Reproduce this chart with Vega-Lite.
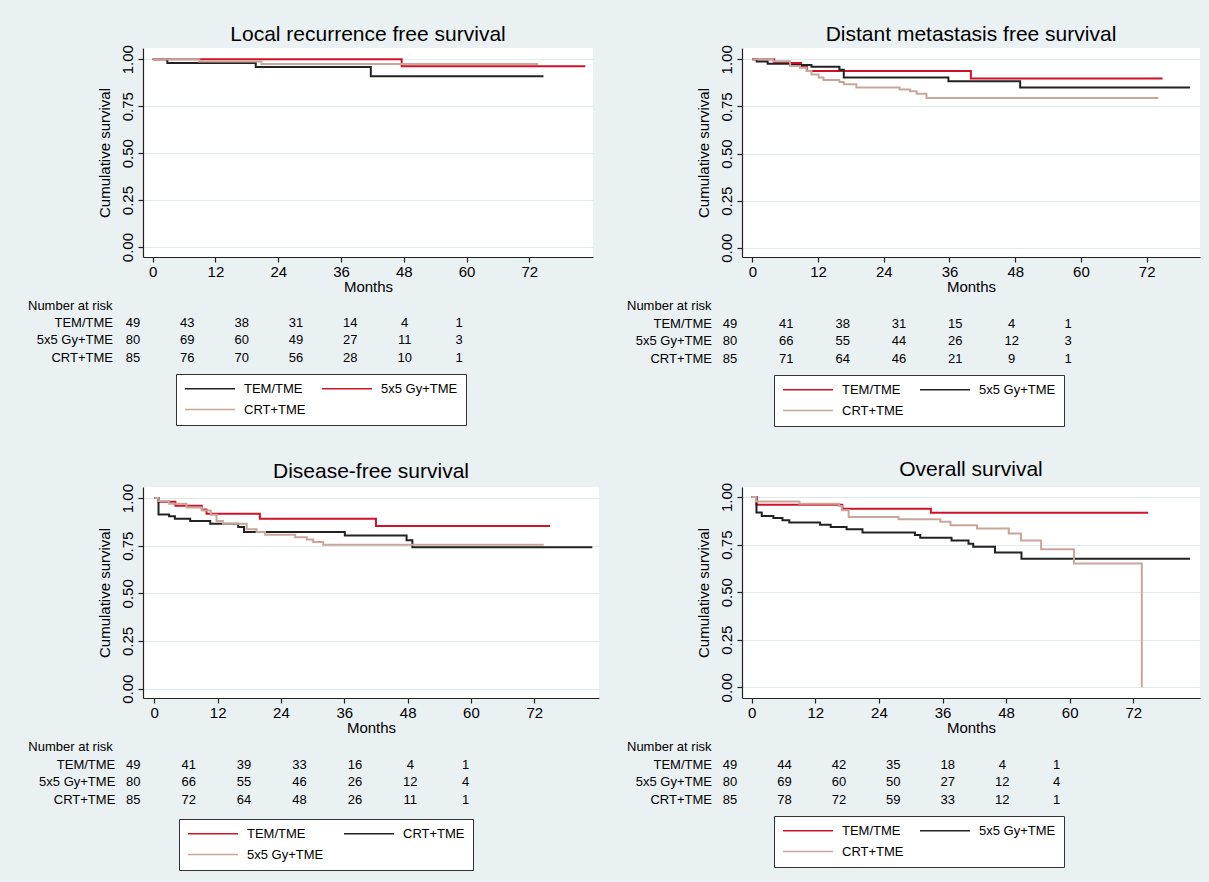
{
  "$schema": "https://vega.github.io/schema/vega-lite/v6.json",
  "background": "#eaf1f3",
  "autosize": {"type": "pad"},
  "padding": {"left": 28, "top": 23, "right": 9, "bottom": 12},
  "columns": 2,
  "spacing": {"row": 230, "column": 143},
  "bounds": "flush",
  "resolve": {"scale": {"color": "independent"}},
  "datasets": {
    "km1": [
      {"group": "TEM/TME", "month": 0, "surv": 1},
      {"group": "TEM/TME", "month": 2.8, "surv": 0.98},
      {"group": "TEM/TME", "month": 19.7, "surv": 0.959},
      {"group": "TEM/TME", "month": 41.7, "surv": 0.909},
      {"group": "TEM/TME", "month": 74.7, "surv": 0.909},
      {"group": "5x5 Gy+TME", "month": 0, "surv": 1},
      {"group": "5x5 Gy+TME", "month": 47.6, "surv": 0.963},
      {"group": "5x5 Gy+TME", "month": 82.7, "surv": 0.963},
      {"group": "CRT+TME", "month": 0, "surv": 1},
      {"group": "CRT+TME", "month": 8.9, "surv": 0.988},
      {"group": "CRT+TME", "month": 20.8, "surv": 0.975},
      {"group": "CRT+TME", "month": 73.7, "surv": 0.975}
    ],
    "km2": [
      {"group": "TEM/TME", "month": 0, "surv": 1},
      {"group": "TEM/TME", "month": 4, "surv": 0.98},
      {"group": "TEM/TME", "month": 8.9, "surv": 0.959},
      {"group": "TEM/TME", "month": 10, "surv": 0.938},
      {"group": "TEM/TME", "month": 39.9, "surv": 0.898},
      {"group": "TEM/TME", "month": 74.9, "surv": 0.898},
      {"group": "5x5 Gy+TME", "month": 0, "surv": 1},
      {"group": "5x5 Gy+TME", "month": 0.8, "surv": 0.988},
      {"group": "5x5 Gy+TME", "month": 2.8, "surv": 0.976},
      {"group": "5x5 Gy+TME", "month": 6.9, "surv": 0.97},
      {"group": "5x5 Gy+TME", "month": 10.8, "surv": 0.96},
      {"group": "5x5 Gy+TME", "month": 15.9, "surv": 0.945},
      {"group": "5x5 Gy+TME", "month": 16.7, "surv": 0.904},
      {"group": "5x5 Gy+TME", "month": 35.8, "surv": 0.884},
      {"group": "5x5 Gy+TME", "month": 48.9, "surv": 0.85},
      {"group": "5x5 Gy+TME", "month": 79.9, "surv": 0.85},
      {"group": "CRT+TME", "month": 0, "surv": 1},
      {"group": "CRT+TME", "month": 3.8, "surv": 0.99},
      {"group": "CRT+TME", "month": 6.9, "surv": 0.965},
      {"group": "CRT+TME", "month": 8.7, "surv": 0.955},
      {"group": "CRT+TME", "month": 9.9, "surv": 0.938},
      {"group": "CRT+TME", "month": 10.8, "surv": 0.92},
      {"group": "CRT+TME", "month": 12.1, "surv": 0.903},
      {"group": "CRT+TME", "month": 13, "surv": 0.89},
      {"group": "CRT+TME", "month": 15.9, "surv": 0.88},
      {"group": "CRT+TME", "month": 16.7, "surv": 0.867},
      {"group": "CRT+TME", "month": 19, "surv": 0.85},
      {"group": "CRT+TME", "month": 26.9, "surv": 0.84},
      {"group": "CRT+TME", "month": 28.8, "surv": 0.83},
      {"group": "CRT+TME", "month": 30, "surv": 0.817},
      {"group": "CRT+TME", "month": 31.8, "surv": 0.795},
      {"group": "CRT+TME", "month": 74.1, "surv": 0.795}
    ],
    "km3": [
      {"group": "TEM/TME", "month": 0, "surv": 1},
      {"group": "TEM/TME", "month": 0.8, "surv": 0.98},
      {"group": "TEM/TME", "month": 4, "surv": 0.96},
      {"group": "TEM/TME", "month": 9, "surv": 0.94},
      {"group": "TEM/TME", "month": 9.9, "surv": 0.918},
      {"group": "TEM/TME", "month": 20, "surv": 0.892},
      {"group": "TEM/TME", "month": 42, "surv": 0.853},
      {"group": "TEM/TME", "month": 75, "surv": 0.853},
      {"group": "CRT+TME", "month": 0, "surv": 1},
      {"group": "CRT+TME", "month": 0.8, "surv": 0.914},
      {"group": "CRT+TME", "month": 2.8, "surv": 0.904},
      {"group": "CRT+TME", "month": 3.9, "surv": 0.892},
      {"group": "CRT+TME", "month": 6.8, "surv": 0.88},
      {"group": "CRT+TME", "month": 10.6, "surv": 0.865},
      {"group": "CRT+TME", "month": 15.9, "surv": 0.848},
      {"group": "CRT+TME", "month": 17, "surv": 0.822},
      {"group": "CRT+TME", "month": 36.1, "surv": 0.804},
      {"group": "CRT+TME", "month": 47.8, "surv": 0.778},
      {"group": "CRT+TME", "month": 48.9, "surv": 0.742},
      {"group": "CRT+TME", "month": 83, "surv": 0.742},
      {"group": "5x5 Gy+TME", "month": 0, "surv": 1},
      {"group": "5x5 Gy+TME", "month": 0.8, "surv": 0.985},
      {"group": "5x5 Gy+TME", "month": 2.8, "surv": 0.97},
      {"group": "5x5 Gy+TME", "month": 6.1, "surv": 0.95},
      {"group": "5x5 Gy+TME", "month": 9, "surv": 0.935},
      {"group": "5x5 Gy+TME", "month": 10.7, "surv": 0.912},
      {"group": "5x5 Gy+TME", "month": 11.8, "surv": 0.88},
      {"group": "5x5 Gy+TME", "month": 13, "surv": 0.865},
      {"group": "5x5 Gy+TME", "month": 17.5, "surv": 0.836},
      {"group": "5x5 Gy+TME", "month": 19.4, "surv": 0.822},
      {"group": "5x5 Gy+TME", "month": 21, "surv": 0.808},
      {"group": "5x5 Gy+TME", "month": 26.7, "surv": 0.795},
      {"group": "5x5 Gy+TME", "month": 28.9, "surv": 0.783},
      {"group": "5x5 Gy+TME", "month": 30.1, "surv": 0.77},
      {"group": "5x5 Gy+TME", "month": 32, "surv": 0.755},
      {"group": "5x5 Gy+TME", "month": 73.8, "surv": 0.755}
    ],
    "km4": [
      {"group": "TEM/TME", "month": 0, "surv": 1},
      {"group": "TEM/TME", "month": 0.9, "surv": 0.959},
      {"group": "TEM/TME", "month": 17.1, "surv": 0.938},
      {"group": "TEM/TME", "month": 33.8, "surv": 0.917},
      {"group": "TEM/TME", "month": 74.8, "surv": 0.917},
      {"group": "5x5 Gy+TME", "month": 0, "surv": 1},
      {"group": "5x5 Gy+TME", "month": 0.9, "surv": 0.918},
      {"group": "5x5 Gy+TME", "month": 1.9, "surv": 0.9},
      {"group": "5x5 Gy+TME", "month": 4.1, "surv": 0.89},
      {"group": "5x5 Gy+TME", "month": 5.8, "surv": 0.878},
      {"group": "5x5 Gy+TME", "month": 7.1, "surv": 0.866},
      {"group": "5x5 Gy+TME", "month": 12.9, "surv": 0.854},
      {"group": "5x5 Gy+TME", "month": 14.9, "surv": 0.842},
      {"group": "5x5 Gy+TME", "month": 17.9, "surv": 0.83},
      {"group": "5x5 Gy+TME", "month": 20.9, "surv": 0.814},
      {"group": "5x5 Gy+TME", "month": 30.8, "surv": 0.8},
      {"group": "5x5 Gy+TME", "month": 31.8, "surv": 0.786},
      {"group": "5x5 Gy+TME", "month": 37.7, "surv": 0.772},
      {"group": "5x5 Gy+TME", "month": 40.9, "surv": 0.755},
      {"group": "5x5 Gy+TME", "month": 41.8, "surv": 0.738},
      {"group": "5x5 Gy+TME", "month": 45.9, "surv": 0.708},
      {"group": "5x5 Gy+TME", "month": 50.9, "surv": 0.676},
      {"group": "5x5 Gy+TME", "month": 82.7, "surv": 0.676},
      {"group": "CRT+TME", "month": 0, "surv": 1},
      {"group": "CRT+TME", "month": 0.8, "surv": 0.976},
      {"group": "CRT+TME", "month": 9, "surv": 0.965},
      {"group": "CRT+TME", "month": 16.5, "surv": 0.953},
      {"group": "CRT+TME", "month": 17, "surv": 0.93},
      {"group": "CRT+TME", "month": 18.3, "surv": 0.895},
      {"group": "CRT+TME", "month": 27.7, "surv": 0.883},
      {"group": "CRT+TME", "month": 35.6, "surv": 0.87},
      {"group": "CRT+TME", "month": 37.5, "surv": 0.852},
      {"group": "CRT+TME", "month": 42.5, "surv": 0.834},
      {"group": "CRT+TME", "month": 48.5, "surv": 0.808},
      {"group": "CRT+TME", "month": 50.8, "surv": 0.772},
      {"group": "CRT+TME", "month": 54.6, "surv": 0.725},
      {"group": "CRT+TME", "month": 60.8, "surv": 0.65},
      {"group": "CRT+TME", "month": 73.6, "surv": 0}
    ],
    "risk1": [
      {"group": "TEM/TME", "month": 0, "n": 49}, {"group": "TEM/TME", "month": 12, "n": 43}, {"group": "TEM/TME", "month": 24, "n": 38}, {"group": "TEM/TME", "month": 36, "n": 31}, {"group": "TEM/TME", "month": 48, "n": 14}, {"group": "TEM/TME", "month": 60, "n": 4}, {"group": "TEM/TME", "month": 72, "n": 1},
      {"group": "5x5 Gy+TME", "month": 0, "n": 80}, {"group": "5x5 Gy+TME", "month": 12, "n": 69}, {"group": "5x5 Gy+TME", "month": 24, "n": 60}, {"group": "5x5 Gy+TME", "month": 36, "n": 49}, {"group": "5x5 Gy+TME", "month": 48, "n": 27}, {"group": "5x5 Gy+TME", "month": 60, "n": 11}, {"group": "5x5 Gy+TME", "month": 72, "n": 3},
      {"group": "CRT+TME", "month": 0, "n": 85}, {"group": "CRT+TME", "month": 12, "n": 76}, {"group": "CRT+TME", "month": 24, "n": 70}, {"group": "CRT+TME", "month": 36, "n": 56}, {"group": "CRT+TME", "month": 48, "n": 28}, {"group": "CRT+TME", "month": 60, "n": 10}, {"group": "CRT+TME", "month": 72, "n": 1}
    ],
    "risk2": [
      {"group": "TEM/TME", "month": 0, "n": 49}, {"group": "TEM/TME", "month": 12, "n": 41}, {"group": "TEM/TME", "month": 24, "n": 38}, {"group": "TEM/TME", "month": 36, "n": 31}, {"group": "TEM/TME", "month": 48, "n": 15}, {"group": "TEM/TME", "month": 60, "n": 4}, {"group": "TEM/TME", "month": 72, "n": 1},
      {"group": "5x5 Gy+TME", "month": 0, "n": 80}, {"group": "5x5 Gy+TME", "month": 12, "n": 66}, {"group": "5x5 Gy+TME", "month": 24, "n": 55}, {"group": "5x5 Gy+TME", "month": 36, "n": 44}, {"group": "5x5 Gy+TME", "month": 48, "n": 26}, {"group": "5x5 Gy+TME", "month": 60, "n": 12}, {"group": "5x5 Gy+TME", "month": 72, "n": 3},
      {"group": "CRT+TME", "month": 0, "n": 85}, {"group": "CRT+TME", "month": 12, "n": 71}, {"group": "CRT+TME", "month": 24, "n": 64}, {"group": "CRT+TME", "month": 36, "n": 46}, {"group": "CRT+TME", "month": 48, "n": 21}, {"group": "CRT+TME", "month": 60, "n": 9}, {"group": "CRT+TME", "month": 72, "n": 1}
    ],
    "risk3": [
      {"group": "TEM/TME", "month": 0, "n": 49}, {"group": "TEM/TME", "month": 12, "n": 41}, {"group": "TEM/TME", "month": 24, "n": 39}, {"group": "TEM/TME", "month": 36, "n": 33}, {"group": "TEM/TME", "month": 48, "n": 16}, {"group": "TEM/TME", "month": 60, "n": 4}, {"group": "TEM/TME", "month": 72, "n": 1},
      {"group": "5x5 Gy+TME", "month": 0, "n": 80}, {"group": "5x5 Gy+TME", "month": 12, "n": 66}, {"group": "5x5 Gy+TME", "month": 24, "n": 55}, {"group": "5x5 Gy+TME", "month": 36, "n": 46}, {"group": "5x5 Gy+TME", "month": 48, "n": 26}, {"group": "5x5 Gy+TME", "month": 60, "n": 12}, {"group": "5x5 Gy+TME", "month": 72, "n": 4},
      {"group": "CRT+TME", "month": 0, "n": 85}, {"group": "CRT+TME", "month": 12, "n": 72}, {"group": "CRT+TME", "month": 24, "n": 64}, {"group": "CRT+TME", "month": 36, "n": 48}, {"group": "CRT+TME", "month": 48, "n": 26}, {"group": "CRT+TME", "month": 60, "n": 11}, {"group": "CRT+TME", "month": 72, "n": 1}
    ],
    "risk4": [
      {"group": "TEM/TME", "month": 0, "n": 49}, {"group": "TEM/TME", "month": 12, "n": 44}, {"group": "TEM/TME", "month": 24, "n": 42}, {"group": "TEM/TME", "month": 36, "n": 35}, {"group": "TEM/TME", "month": 48, "n": 18}, {"group": "TEM/TME", "month": 60, "n": 4}, {"group": "TEM/TME", "month": 72, "n": 1},
      {"group": "5x5 Gy+TME", "month": 0, "n": 80}, {"group": "5x5 Gy+TME", "month": 12, "n": 69}, {"group": "5x5 Gy+TME", "month": 24, "n": 60}, {"group": "5x5 Gy+TME", "month": 36, "n": 50}, {"group": "5x5 Gy+TME", "month": 48, "n": 27}, {"group": "5x5 Gy+TME", "month": 60, "n": 12}, {"group": "5x5 Gy+TME", "month": 72, "n": 4},
      {"group": "CRT+TME", "month": 0, "n": 85}, {"group": "CRT+TME", "month": 12, "n": 78}, {"group": "CRT+TME", "month": 24, "n": 72}, {"group": "CRT+TME", "month": 36, "n": 59}, {"group": "CRT+TME", "month": 48, "n": 33}, {"group": "CRT+TME", "month": 60, "n": 12}, {"group": "CRT+TME", "month": 72, "n": 1}
    ],
    "hdr": [{"label": "Number at risk", "month": 0, "group": "Number at risk"}]
  },
  "concat": [
    {
      "width": 450, "height": 209,
      "title": {"text": "Local recurrence free survival", "frame": "group", "baseline": "alphabetic", "offset": -17, "anchor": "middle"},
      "resolve": {"scale": {"x": "independent", "y": "independent"}},
      "layer": [
        {
          "data": {"name": "km1"},
          "mark": {"type": "line", "interpolate": "step-after", "strokeWidth": 2},
          "encoding": {
            "x": {"field": "month", "type": "quantitative", "scale": {"domain": [-1.85, 84.17], "nice": false, "zero": false},
                  "axis": {"values": [0, 12, 24, 36, 48, 60, 72], "title": "Months", "grid": false, "labelPadding": 2, "titlePadding": 0}},
            "y": {"field": "surv", "type": "quantitative", "scale": {"domain": [-0.053, 1.06], "nice": false, "zero": false},
                  "axis": {"values": [0, 0.25, 0.5, 0.75, 1], "format": ".2f", "title": "Cumulative survival", "grid": true, "labelAngle": -90, "labelAlign": "center", "labelBaseline": "bottom", "labelPadding": 3, "titlePadding": 8}},
            "color": {"field": "group", "type": "nominal",
                      "scale": {"domain": ["TEM/TME", "5x5 Gy+TME", "CRT+TME"], "range": ["#222222", "#cf1228", "#c9a69c"]},
                      "legend": {"orient": "none", "direction": "horizontal", "legendX": 33, "legendY": 326, "columns": 2, "title": null, "symbolType": "stroke", "symbolSize": 2500, "symbolStrokeWidth": 1.5, "clipHeight": 13, "labelFontSize": 13, "labelOffset": 8, "columnPadding": 15, "rowPadding": 7, "padding": 8, "strokeColor": "#333333", "fillColor": "#ffffff", "labelColor": "#000000"}}
          }
        },
        {
          "data": {"name": "risk1"},
          "mark": {"type": "text", "align": "center", "baseline": "middle", "fontSize": 13},
          "encoding": {
            "x": {"field": "month", "type": "quantitative", "scale": {"domain": [0, 72], "range": [-10, 316]}, "axis": null},
            "y": {"field": "group", "type": "nominal", "scale": {"type": "point", "domain": ["Number at risk", "TEM/TME", "5x5 Gy+TME", "CRT+TME"], "range": [258, 309.7], "padding": 0}, "axis": null},
            "text": {"field": "n", "type": "quantitative", "format": "d"}
          }
        },
        {
          "data": {"name": "risk1"},
          "transform": [{"filter": "datum.month == 0"}],
          "mark": {"type": "text", "align": "right", "baseline": "middle", "fontSize": 13, "dx": -20},
          "encoding": {
            "x": {"field": "month", "type": "quantitative", "scale": {"domain": [0, 72], "range": [-10, 316]}, "axis": null},
            "y": {"field": "group", "type": "nominal", "scale": {"type": "point", "domain": ["Number at risk", "TEM/TME", "5x5 Gy+TME", "CRT+TME"], "range": [258, 309.7], "padding": 0}, "axis": null},
            "text": {"field": "group", "type": "nominal"}
          }
        },
        {
          "data": {"name": "hdr"},
          "mark": {"type": "text", "align": "left", "baseline": "middle", "fontSize": 13, "dx": -105},
          "encoding": {
            "x": {"field": "month", "type": "quantitative", "scale": {"domain": [0, 72], "range": [-10, 316]}, "axis": null},
            "y": {"field": "group", "type": "nominal", "scale": {"type": "point", "domain": ["Number at risk", "TEM/TME", "5x5 Gy+TME", "CRT+TME"], "range": [258, 309.7], "padding": 0}, "axis": null},
            "text": {"field": "label", "type": "nominal"}
          }
        }
      ]
    },
    {
      "width": 458, "height": 209,
      "title": {"text": "Distant metastasis free survival", "frame": "group", "baseline": "alphabetic", "offset": -17, "anchor": "middle"},
      "resolve": {"scale": {"x": "independent", "y": "independent"}},
      "layer": [
        {
          "data": {"name": "km2"},
          "mark": {"type": "line", "interpolate": "step-after", "strokeWidth": 2},
          "encoding": {
            "x": {"field": "month", "type": "quantitative", "scale": {"domain": [-1.88, 81.73], "nice": false, "zero": false},
                  "axis": {"values": [0, 12, 24, 36, 48, 60, 72], "title": "Months", "grid": false, "labelPadding": 2, "titlePadding": 0}},
            "y": {"field": "surv", "type": "quantitative", "scale": {"domain": [-0.049, 1.06], "nice": false, "zero": false},
                  "axis": {"values": [0, 0.25, 0.5, 0.75, 1], "format": ".2f", "title": "Cumulative survival", "grid": true, "labelAngle": -90, "labelAlign": "center", "labelBaseline": "bottom", "labelPadding": 3, "titlePadding": 8}},
            "color": {"field": "group", "type": "nominal",
                      "scale": {"domain": ["TEM/TME", "5x5 Gy+TME", "CRT+TME"], "range": ["#cf1228", "#222222", "#c9a69c"]},
                      "legend": {"orient": "none", "direction": "horizontal", "legendX": 32, "legendY": 327, "columns": 2, "title": null, "symbolType": "stroke", "symbolSize": 2500, "symbolStrokeWidth": 1.5, "clipHeight": 13, "labelFontSize": 13, "labelOffset": 8, "columnPadding": 15, "rowPadding": 7, "padding": 8, "strokeColor": "#333333", "fillColor": "#ffffff", "labelColor": "#000000"}}
          }
        },
        {
          "data": {"name": "risk2"},
          "mark": {"type": "text", "align": "center", "baseline": "middle", "fontSize": 13},
          "encoding": {
            "x": {"field": "month", "type": "quantitative", "scale": {"domain": [0, 72], "range": [-12, 326]}, "axis": null},
            "y": {"field": "group", "type": "nominal", "scale": {"type": "point", "domain": ["Number at risk", "TEM/TME", "5x5 Gy+TME", "CRT+TME"], "range": [258, 310.7], "padding": 0}, "axis": null},
            "text": {"field": "n", "type": "quantitative", "format": "d"}
          }
        },
        {
          "data": {"name": "risk2"},
          "transform": [{"filter": "datum.month == 0"}],
          "mark": {"type": "text", "align": "right", "baseline": "middle", "fontSize": 13, "dx": -18},
          "encoding": {
            "x": {"field": "month", "type": "quantitative", "scale": {"domain": [0, 72], "range": [-12, 326]}, "axis": null},
            "y": {"field": "group", "type": "nominal", "scale": {"type": "point", "domain": ["Number at risk", "TEM/TME", "5x5 Gy+TME", "CRT+TME"], "range": [258, 310.7], "padding": 0}, "axis": null},
            "text": {"field": "group", "type": "nominal"}
          }
        },
        {
          "data": {"name": "hdr"},
          "mark": {"type": "text", "align": "left", "baseline": "middle", "fontSize": 13, "dx": -103},
          "encoding": {
            "x": {"field": "month", "type": "quantitative", "scale": {"domain": [0, 72], "range": [-12, 326]}, "axis": null},
            "y": {"field": "group", "type": "nominal", "scale": {"type": "point", "domain": ["Number at risk", "TEM/TME", "5x5 Gy+TME", "CRT+TME"], "range": [258, 310.7], "padding": 0}, "axis": null},
            "text": {"field": "label", "type": "nominal"}
          }
        }
      ]
    },
    {
      "width": 456, "height": 211,
      "title": {"text": "Disease-free survival", "frame": "group", "baseline": "alphabetic", "offset": -16, "anchor": "middle"},
      "resolve": {"scale": {"x": "independent", "y": "independent"}},
      "layer": [
        {
          "data": {"name": "km3"},
          "mark": {"type": "line", "interpolate": "step-after", "strokeWidth": 2},
          "encoding": {
            "x": {"field": "month", "type": "quantitative", "scale": {"domain": [-2.14, 84.26], "nice": false, "zero": false},
                  "axis": {"values": [0, 12, 24, 36, 48, 60, 72], "title": "Months", "grid": false, "labelPadding": 2, "titlePadding": 0}},
            "y": {"field": "surv", "type": "quantitative", "scale": {"domain": [-0.049, 1.058], "nice": false, "zero": false},
                  "axis": {"values": [0, 0.25, 0.5, 0.75, 1], "format": ".2f", "title": "Cumulative survival", "grid": true, "labelAngle": -90, "labelAlign": "center", "labelBaseline": "bottom", "labelPadding": 3, "titlePadding": 8}},
            "color": {"field": "group", "type": "nominal",
                      "scale": {"domain": ["TEM/TME", "CRT+TME", "5x5 Gy+TME"], "range": ["#cf1228", "#222222", "#c9a69c"]},
                      "legend": {"orient": "none", "direction": "horizontal", "legendX": 36, "legendY": 332, "columns": 2, "title": null, "symbolType": "stroke", "symbolSize": 2500, "symbolStrokeWidth": 1.5, "clipHeight": 13, "labelFontSize": 13, "labelOffset": 8, "columnPadding": 19, "rowPadding": 7, "padding": 8, "strokeColor": "#333333", "fillColor": "#ffffff", "labelColor": "#000000"}}
          }
        },
        {
          "data": {"name": "risk3"},
          "mark": {"type": "text", "align": "center", "baseline": "middle", "fontSize": 13},
          "encoding": {
            "x": {"field": "month", "type": "quantitative", "scale": {"domain": [0, 72], "range": [-9.7, 322.7]}, "axis": null},
            "y": {"field": "group", "type": "nominal", "scale": {"type": "point", "domain": ["Number at risk", "TEM/TME", "5x5 Gy+TME", "CRT+TME"], "range": [260, 312.7], "padding": 0}, "axis": null},
            "text": {"field": "n", "type": "quantitative", "format": "d"}
          }
        },
        {
          "data": {"name": "risk3"},
          "transform": [{"filter": "datum.month == 0"}],
          "mark": {"type": "text", "align": "right", "baseline": "middle", "fontSize": 13, "dx": -18},
          "encoding": {
            "x": {"field": "month", "type": "quantitative", "scale": {"domain": [0, 72], "range": [-9.7, 322.7]}, "axis": null},
            "y": {"field": "group", "type": "nominal", "scale": {"type": "point", "domain": ["Number at risk", "TEM/TME", "5x5 Gy+TME", "CRT+TME"], "range": [260, 312.7], "padding": 0}, "axis": null},
            "text": {"field": "group", "type": "nominal"}
          }
        },
        {
          "data": {"name": "hdr"},
          "mark": {"type": "text", "align": "left", "baseline": "middle", "fontSize": 13, "dx": -105},
          "encoding": {
            "x": {"field": "month", "type": "quantitative", "scale": {"domain": [0, 72], "range": [-9.7, 322.7]}, "axis": null},
            "y": {"field": "group", "type": "nominal", "scale": {"type": "point", "domain": ["Number at risk", "TEM/TME", "5x5 Gy+TME", "CRT+TME"], "range": [260, 312.7], "padding": 0}, "axis": null},
            "text": {"field": "label", "type": "nominal"}
          }
        }
      ]
    },
    {
      "width": 458, "height": 211,
      "title": {"text": "Overall survival", "frame": "group", "baseline": "alphabetic", "offset": -15, "anchor": "middle"},
      "resolve": {"scale": {"x": "independent", "y": "independent"}},
      "layer": [
        {
          "data": {"name": "km4"},
          "mark": {"type": "line", "interpolate": "step-after", "strokeWidth": 2},
          "encoding": {
            "x": {"field": "month", "type": "quantitative", "scale": {"domain": [-1.83, 84.58], "nice": false, "zero": false},
                  "axis": {"values": [0, 12, 24, 36, 48, 60, 72], "title": "Months", "grid": false, "labelPadding": 2, "titlePadding": 0}},
            "y": {"field": "surv", "type": "quantitative", "scale": {"domain": [-0.056, 1.0525], "nice": false, "zero": false},
                  "axis": {"values": [0, 0.25, 0.5, 0.75, 1], "format": ".2f", "title": "Cumulative survival", "grid": true, "labelAngle": -90, "labelAlign": "center", "labelBaseline": "bottom", "labelPadding": 3, "titlePadding": 8}},
            "color": {"field": "group", "type": "nominal",
                      "scale": {"domain": ["TEM/TME", "5x5 Gy+TME", "CRT+TME"], "range": ["#cf1228", "#222222", "#c9a69c"]},
                      "legend": {"orient": "none", "direction": "horizontal", "legendX": 32, "legendY": 329, "columns": 2, "title": null, "symbolType": "stroke", "symbolSize": 2500, "symbolStrokeWidth": 1.5, "clipHeight": 13, "labelFontSize": 13, "labelOffset": 8, "columnPadding": 15, "rowPadding": 7, "padding": 8, "strokeColor": "#333333", "fillColor": "#ffffff", "labelColor": "#000000"}}
          }
        },
        {
          "data": {"name": "risk4"},
          "mark": {"type": "text", "align": "center", "baseline": "middle", "fontSize": 13},
          "encoding": {
            "x": {"field": "month", "type": "quantitative", "scale": {"domain": [0, 72], "range": [-12, 314.7]}, "axis": null},
            "y": {"field": "group", "type": "nominal", "scale": {"type": "point", "domain": ["Number at risk", "TEM/TME", "5x5 Gy+TME", "CRT+TME"], "range": [260, 312.7], "padding": 0}, "axis": null},
            "text": {"field": "n", "type": "quantitative", "format": "d"}
          }
        },
        {
          "data": {"name": "risk4"},
          "transform": [{"filter": "datum.month == 0"}],
          "mark": {"type": "text", "align": "right", "baseline": "middle", "fontSize": 13, "dx": -18},
          "encoding": {
            "x": {"field": "month", "type": "quantitative", "scale": {"domain": [0, 72], "range": [-12, 314.7]}, "axis": null},
            "y": {"field": "group", "type": "nominal", "scale": {"type": "point", "domain": ["Number at risk", "TEM/TME", "5x5 Gy+TME", "CRT+TME"], "range": [260, 312.7], "padding": 0}, "axis": null},
            "text": {"field": "group", "type": "nominal"}
          }
        },
        {
          "data": {"name": "hdr"},
          "mark": {"type": "text", "align": "left", "baseline": "middle", "fontSize": 13, "dx": -103},
          "encoding": {
            "x": {"field": "month", "type": "quantitative", "scale": {"domain": [0, 72], "range": [-12, 314.7]}, "axis": null},
            "y": {"field": "group", "type": "nominal", "scale": {"type": "point", "domain": ["Number at risk", "TEM/TME", "5x5 Gy+TME", "CRT+TME"], "range": [260, 312.7], "padding": 0}, "axis": null},
            "text": {"field": "label", "type": "nominal"}
          }
        }
      ]
    }
  ],
  "config": {
    "font": "Liberation Sans",
    "view": {"stroke": null, "fill": "#ffffff"},
    "axis": {"domainColor": "#222222", "tickColor": "#222222", "labelColor": "#000000", "titleColor": "#000000", "labelFontSize": 15, "titleFontSize": 15, "titleFontWeight": "normal", "tickSize": 5, "labelFlush": false, "labelOverlap": false, "gridColor": "#dfe9ed", "gridWidth": 1, "domainWidth": 1.2, "tickWidth": 1.2, "labelFont": "Liberation Sans", "titleFont": "Liberation Sans"},
    "text": {"font": "Liberation Sans", "fontSize": 13, "color": "#000000"},
    "legend": {"labelFont": "Liberation Sans"},
    "title": {"font": "Liberation Sans", "fontSize": 21, "fontWeight": "normal", "color": "#000000"}
  }
}
